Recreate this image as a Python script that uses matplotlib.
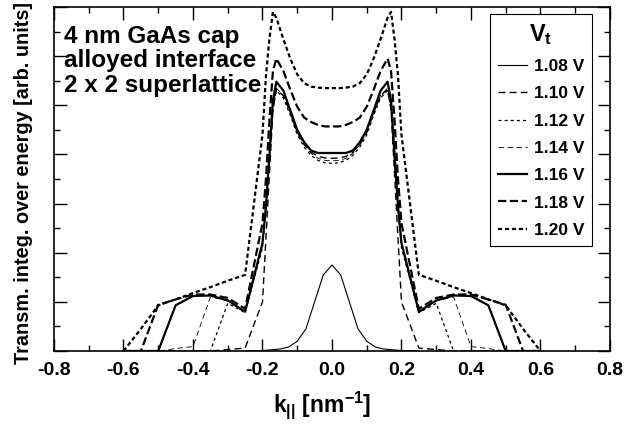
import matplotlib
matplotlib.use('Agg')
import matplotlib.pyplot as plt

plt.rcParams['font.family'] = ['Liberation Sans', 'DejaVu Sans']
plt.rcParams['font.weight'] = 'bold'
plt.rcParams['mathtext.fontset'] = 'custom'
plt.rcParams['mathtext.rm'] = 'Liberation Sans:bold'
plt.rcParams['mathtext.bf'] = 'Liberation Sans:bold'
plt.rcParams['mathtext.it'] = 'Liberation Sans:bold'
plt.rcParams['lines.scale_dashes'] = False

# k grid (nm^-1) used by the 1.10 ... 1.20 V curves
k = [-0.6, -0.55, -0.5, -0.45, -0.4, -0.35, -0.3, -0.25, -0.2, -0.19, -0.18,
     -0.17, -0.16, -0.14, -0.12, -0.1, -0.08, -0.06, -0.04, -0.02, 0.0,
     0.02, 0.04, 0.06, 0.08, 0.1, 0.12, 0.14, 0.16, 0.17, 0.18, 0.19, 0.2,
     0.25, 0.3, 0.35, 0.4, 0.45, 0.5, 0.55, 0.6]

# 1.08 V has its own (finer) grid
k_108 = [-0.25, -0.2, -0.15, -0.125, -0.1, -0.075, -0.05, -0.025, 0.0,
         0.025, 0.05, 0.075, 0.1, 0.125, 0.15, 0.2, 0.25]
t_108 = [0.0, 0.01, 0.04, 0.08, 0.2, 0.45, 1.0, 1.55, 1.75,
         1.55, 1.0, 0.45, 0.2, 0.08, 0.04, 0.01, 0.0]

t_110 = [0.0, 0.0, 0.0, 0.0, 0.0, 0.0, 0.03, 0.06, 1.0, 2.3, 3.6, 4.9, 5.32,
         5.2, 4.85, 4.45, 4.2, 4.05, 3.96, 3.93, 3.92, 3.93, 3.96, 4.05, 4.2,
         4.45, 4.85, 5.2, 5.32, 4.9, 3.6, 2.3, 1.0, 0.06, 0.03, 0.0, 0.0, 0.0,
         0.0, 0.0, 0.0]
t_112 = [0.0, 0.0, 0.0, 0.0, 0.0, 0.0, 0.97, 0.78, 2.1, 2.85, 3.85, 4.95, 5.3,
         5.15, 4.8, 4.4, 4.15, 3.98, 3.88, 3.83, 3.82, 3.83, 3.88, 3.98, 4.15,
         4.4, 4.8, 5.15, 5.3, 4.95, 3.85, 2.85, 2.1, 0.78, 0.97, 0.0, 0.0, 0.0,
         0.0, 0.0, 0.0]
t_114 = [0.0, 0.0, 0.0, 0.05, 0.09, 1.1, 1.02, 0.78, 2.15, 2.9, 3.9, 5.0, 5.35,
         5.2, 4.85, 4.45, 4.2, 4.02, 3.92, 3.88, 3.87, 3.88, 3.92, 4.02, 4.2,
         4.45, 4.85, 5.2, 5.35, 5.0, 3.9, 2.9, 2.15, 0.78, 1.02, 1.1, 0.09,
         0.05, 0.0, 0.0, 0.0]
t_116 = [0.0, 0.0, 0.0, 0.93, 1.12, 1.13, 1.03, 0.8, 2.2, 2.95, 4.0, 5.1, 5.48,
         5.3, 4.9, 4.5, 4.25, 4.08, 4.03, 4.03, 4.03, 4.03, 4.03, 4.08, 4.25,
         4.5, 4.9, 5.3, 5.48, 5.1, 4.0, 2.95, 2.2, 0.8, 1.03, 1.13, 1.12, 0.93,
         0.0, 0.0, 0.0]
t_118 = [0.0, 0.0, 0.94, 1.05, 1.15, 1.15, 1.08, 0.86, 2.6, 3.5, 4.7, 5.7,
         5.95, 5.7, 5.32, 4.97, 4.75, 4.66, 4.6, 4.57, 4.57, 4.57, 4.6, 4.66,
         4.75, 4.97, 5.32, 5.7, 5.95, 5.7, 4.7, 3.5, 2.6, 0.86, 1.08, 1.15,
         1.15, 1.05, 0.94, 0.0, 0.0]
t_120 = [0.0, 0.45, 0.93, 1.05, 1.18, 1.30, 1.43, 1.55, 4.4, 5.6, 6.35, 6.9,
         6.78, 6.35, 5.95, 5.63, 5.45, 5.38, 5.36, 5.35, 5.35, 5.35, 5.36,
         5.38, 5.45, 5.63, 5.95, 6.35, 6.78, 6.9, 6.35, 5.6, 4.4, 1.55, 1.43,
         1.30, 1.18, 1.05, 0.93, 0.45, 0.0]

labels = ['1.08 V', '1.10 V', '1.12 V', '1.14 V', '1.16 V', '1.18 V', '1.20 V']

fig = plt.figure(figsize=(6.42, 4.26), dpi=100)
ax = fig.add_axes([0.0841, 0.176, 0.866, 0.8075])

ax.plot(k_108, t_108, color='black', lw=0.8, label=labels[0])
ax.plot(k, t_110, color='black', lw=1.0, ls=(0, (5, 3)), label=labels[1])
ax.plot(k, t_112, color='black', lw=0.9, ls=(0, (2.2, 2.2)), label=labels[2])
ax.plot(k, t_114, color='black', lw=0.6, ls=(0, (4, 2.5)), label=labels[3])
ax.plot(k, t_116, color='black', lw=1.6, label=labels[4])
ax.plot(k, t_118, color='black', lw=1.6, ls=(0, (6, 2.5)), label=labels[5])
ax.plot(k, t_120, color='black', lw=1.6, ls=(0, (3, 2)), label=labels[6])

ax.set_xlim(-0.8, 0.8)
ax.set_ylim(0, 7)
ax.set_xticks([-0.8, -0.6, -0.4, -0.2, 0.0, 0.2, 0.4, 0.6, 0.8])
ax.set_xticklabels(['-0.8', '-0.6', '-0.4', '-0.2', '0.0', '0.2', '0.4', '0.6', '0.8'],
                   fontsize=14, fontweight='bold')
ax.set_xticks([-0.7, -0.5, -0.3, -0.1, 0.1, 0.3, 0.5, 0.7], minor=True)
ax.set_yticks(range(0, 8))
ax.set_yticks([0.5, 1.5, 2.5, 3.5, 4.5, 5.5, 6.5], minor=True)
ax.set_yticklabels([])
ax.tick_params(which='both', direction='in', top=True, right=True, width=1.0)
ax.tick_params(which='major', length=9, pad=8)
ax.tick_params(which='minor', length=4)
for s in ax.spines.values():
    s.set_linewidth(1.2)

fig.text(322 / 642, 1 - 405 / 426, r'k$_{||}$ [nm$^{-1}$]', ha='center', va='center',
         fontsize=16.5, fontweight='bold')
fig.text(24 / 642, 1 - 183 / 426, 'Transm. integ. over energy [arb. units]',
         rotation=90, ha='center', va='center', fontsize=14.3, fontweight='bold')
fig.text(64 / 642, 1 - 25 / 426, '4 nm GaAs cap\nalloyed interface\n2 x 2 superlattice',
         ha='left', va='top', fontsize=17.5, fontweight='bold', linespacing=1.08)

leg = ax.legend(loc='upper right', bbox_to_anchor=(0.9676, 0.9797), borderaxespad=0,
                title=r'V$_{\rm t}$', fontsize=12.5, title_fontsize=17,
                handlelength=1.7, handletextpad=0.35, labelspacing=0.7,
                fancybox=False, framealpha=1, edgecolor='black', borderpad=0.45)
leg.get_frame().set_linewidth(0.8)
for t in leg.get_texts():
    t.set_fontweight('bold')
leg.get_title().set_fontweight('bold')

fig.savefig('out.png', dpi=100)
